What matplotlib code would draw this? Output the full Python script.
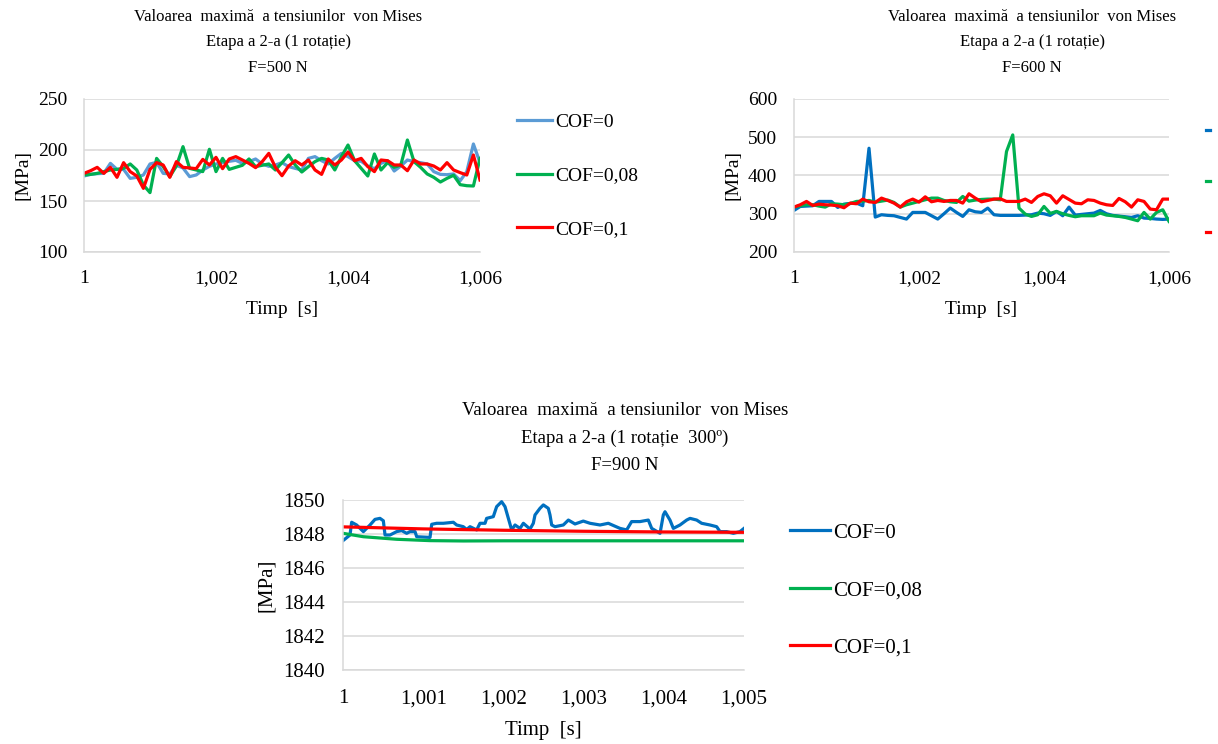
import numpy as np
import matplotlib
matplotlib.use("Agg")
import matplotlib.pyplot as plt
from matplotlib.ticker import FuncFormatter, MultipleLocator

plt.rcParams['font.family'] = ['Liberation Serif', 'DejaVu Serif']

labels = ['COF=0', 'COF=0,08', 'COF=0,1']

# --- F=500 N, one value every 0.0001 s ---
t_500 = np.round(np.linspace(1.0, 1.006, 61), 4)
cof0_500 = [174.5, 176.1, 176.8, 177.1, 186.9, 181.0, 181.0, 172.2, 173.2, 175.5,
            186.3, 187.9, 177.1, 176.5, 185.0, 182.4, 173.9, 175.5, 180.4, 184.0,
            186.3, 187.6, 188.9, 189.9, 186.9, 188.6, 191.2, 186.3, 184.0, 185.3,
            187.6, 183.7, 182.0, 180.4, 191.8, 193.5, 189.5, 186.3, 191.8, 196.7,
            193.5, 189.5, 188.9, 184.3, 181.7, 186.9, 189.5, 179.4, 184.3, 190.2,
            188.6, 187.6, 186.3, 178.8, 176.1, 175.8, 176.5, 169.9, 178.8, 205.9,
            187.6]
cof008_500 = [175.5, 176.1, 177.1, 178.8, 180.4, 181.0, 182.0, 186.3, 180.4, 165.7,
              158.2, 191.8, 183.7, 173.9, 184.3, 203.3, 182.0, 180.4, 178.8, 200.7,
              178.8, 191.8, 181.0, 183.0, 185.0, 191.2, 183.7, 185.0, 186.3, 180.4,
              187.6, 195.1, 185.3, 178.4, 183.7, 188.6, 191.8, 190.2, 180.4, 193.5,
              204.9, 189.5, 182.0, 174.5, 196.1, 180.4, 187.6, 183.0, 185.3, 209.8,
              188.6, 183.0, 176.5, 173.2, 168.6, 172.2, 175.2, 166.0, 165.0, 164.7,
              191.8]
cof01_500 = [177.1, 179.7, 183.0, 177.1, 183.0, 173.2, 187.6, 178.8, 174.5, 162.4,
             181.0, 187.6, 185.3, 173.2, 188.6, 183.0, 182.4, 181.7, 190.8, 185.3,
             192.8, 181.7, 191.2, 193.5, 190.2, 186.9, 182.7, 188.6, 196.7, 183.0,
             174.8, 184.3, 189.5, 185.3, 190.2, 180.4, 176.1, 191.2, 185.3, 190.2,
             198.0, 189.5, 191.8, 183.7, 178.8, 190.2, 189.5, 185.3, 185.3, 179.7,
             190.2, 186.3, 186.3, 184.3, 180.4, 187.6, 180.4, 177.8, 175.5, 195.1,
             170.6]

# --- F=600 N ---
t_600 = np.round(np.linspace(1.0, 1.006, 61), 4)
cof0_600 = [308.7, 319.1, 320.0, 320.9, 332.2, 332.2, 332.2, 316.5, 325.2, 326.9,
            327.8, 320.9, 471.3, 291.3, 297.4, 295.7, 294.8, 290.4, 286.1, 303.5,
            303.5, 303.5, 294.8, 286.1, 300.0, 314.8, 303.5, 293.0, 310.4, 305.2,
            303.5, 314.8, 297.4, 295.7, 295.7, 295.7, 295.7, 296.5, 297.4, 301.7,
            300.0, 295.7, 306.1, 294.8, 317.4, 296.5, 298.3, 300.0, 301.7, 308.7,
            300.0, 295.7, 293.9, 292.2, 290.4, 294.8, 288.7, 287.8, 286.1, 285.2,
            286.1]
cof008_600 = [317.4, 320.9, 323.5, 323.5, 320.0, 317.4, 326.1, 325.2, 323.5, 326.9,
              332.2, 333.0, 334.8, 330.4, 333.0, 335.7, 329.6, 317.4, 323.5, 327.8,
              332.2, 336.5, 340.9, 340.9, 334.8, 331.3, 329.6, 345.2, 333.0, 335.7,
              337.4, 338.3, 338.3, 336.5, 462.6, 506.1, 314.8, 299.1, 293.0, 297.4,
              319.1, 300.9, 306.1, 300.0, 295.7, 292.2, 294.8, 294.8, 294.8, 301.7,
              296.5, 294.8, 293.0, 290.4, 286.1, 281.7, 303.5, 286.1, 303.5, 310.4,
              280.0]
cof01_600 = [317.4, 323.5, 332.2, 321.7, 325.2, 323.5, 322.6, 320.9, 315.7, 327.8,
             326.1, 338.3, 331.3, 329.6, 340.9, 334.8, 327.8, 317.4, 331.3, 338.3,
             330.4, 344.3, 331.3, 334.8, 332.2, 334.8, 334.8, 327.8, 352.2, 340.9,
             331.3, 334.8, 338.3, 339.1, 332.2, 332.2, 332.2, 338.3, 329.6, 345.2,
             352.2, 347.0, 327.8, 347.0, 337.4, 327.8, 326.1, 336.5, 334.8, 327.8,
             323.5, 321.7, 340.0, 331.3, 317.4, 336.5, 332.2, 312.2, 310.4, 338.3,
             338.3]

# --- F=900 N (1 rotatie 300 grade) ---
t_900_cof0 = [1.0, 1.000087, 1.000108, 1.00017, 1.000254, 1.000337, 1.000399, 1.000461,
              1.000503, 1.000524, 1.000586, 1.000669, 1.000732, 1.000794, 1.000835,
              1.000898, 1.000919, 1.001085, 1.001106, 1.001168, 1.001251, 1.001376,
              1.001417, 1.0015, 1.001542, 1.001584, 1.001667, 1.001708, 1.001771,
              1.001791, 1.001874, 1.001916, 1.001978, 1.00202, 1.002103, 1.002145,
              1.002207, 1.002249, 1.002332, 1.002373, 1.002394, 1.002456, 1.002498,
              1.00256, 1.002581, 1.002602, 1.002643, 1.002747, 1.00281, 1.002893,
              1.002996, 1.00308, 1.003205, 1.003308, 1.003454, 1.003537, 1.003599,
              1.003703, 1.003807, 1.003849, 1.003953, 1.003994, 1.004015, 1.004077,
              1.004119, 1.004202, 1.004285, 1.004327, 1.00441, 1.004472, 1.004576,
              1.004659, 1.004701, 1.004784, 1.004867, 1.00495, 1.005]
cof0_900 = [1847.61, 1847.94, 1848.69, 1848.53, 1848.14, 1848.53, 1848.86, 1848.92,
            1848.78, 1847.94, 1847.94, 1848.14, 1848.20, 1848.04, 1848.14,
            1848.14, 1847.84, 1847.80, 1848.57, 1848.63, 1848.63, 1848.69,
            1848.53, 1848.43, 1848.27, 1848.43, 1848.24, 1848.63, 1848.63,
            1848.92, 1849.02, 1849.61, 1849.90, 1849.61, 1848.24, 1848.53,
            1848.33, 1848.63, 1848.29, 1848.63, 1849.12, 1849.51, 1849.71,
            1849.51, 1849.12, 1848.53, 1848.43, 1848.53, 1848.82, 1848.59,
            1848.76, 1848.63, 1848.53, 1848.63, 1848.33, 1848.24, 1848.73,
            1848.73, 1848.82, 1848.33, 1848.04, 1849.12, 1849.31, 1848.82,
            1848.33, 1848.53, 1848.82, 1848.92, 1848.82, 1848.63, 1848.53,
            1848.43, 1848.14, 1848.14, 1848.04, 1848.14, 1848.33]
t_900_cof008 = [1.0, 1.000254, 1.000669, 1.001085, 1.0015, 1.002, 1.003, 1.004, 1.005]
cof008_900 = [1848.04, 1847.84, 1847.69, 1847.61, 1847.59, 1847.60, 1847.60, 1847.60, 1847.60]
t_900_cof01 = [1.0, 1.001, 1.002, 1.003, 1.004, 1.005]
cof01_900 = [1848.42, 1848.30, 1848.22, 1848.16, 1848.12, 1848.10]

W, H = 1218, 744
fig = plt.figure(figsize=(W / 100, H / 100), dpi=100)


def px_axes(x0, y0, x1, y1):
    # axes box given in pixels from the top-left corner
    return fig.add_axes([x0 / W, 1 - y1 / H, (x1 - x0) / W, (y1 - y0) / H])


comma = FuncFormatter(lambda v, _: ('%g' % round(v, 4)).replace('.', ','))


def style(ax, xlim, xstep, ylim, ystep, fs, xpad, ypad):
    ax.set_xlim(*xlim)
    ax.set_ylim(*ylim)
    ax.xaxis.set_major_locator(MultipleLocator(xstep))
    ax.yaxis.set_major_locator(MultipleLocator(ystep))
    ax.xaxis.set_major_formatter(comma)
    ax.yaxis.set_major_formatter(FuncFormatter(lambda v, _: '%d' % v))
    ax.grid(axis='y', color='#d9d9d9', linewidth=1.1)
    ax.set_axisbelow(True)
    for s in ('top', 'right'):
        ax.spines[s].set_visible(False)
    for s in ('left', 'bottom'):
        ax.spines[s].set_color('#d9d9d9')
        ax.spines[s].set_linewidth(1.1)
    ax.tick_params(length=0, labelsize=fs)
    ax.tick_params(axis='x', pad=xpad)
    ax.tick_params(axis='y', pad=ypad)


def title(x, y, lines, fs, ls):
    fig.text(x / W, 1 - y / H, lines, ha='center', va='top', fontsize=fs,
             linespacing=ls, multialignment='center')


def legend(ax, x, y, fs, hl, spacing, textpad=0.15):
    ax.legend(labels, loc='upper left', bbox_to_anchor=(x / W, 1 - y / H),
              bbox_transform=fig.transFigure, frameon=False, fontsize=fs,
              handlelength=hl, handletextpad=textpad, labelspacing=spacing,
              borderpad=0, borderaxespad=0)


lw = 2.3

# chart 1: F=500 N
ax1 = px_axes(84, 99, 480, 252)
ax1.plot(t_500, cof0_500, color='#5b9bd5', lw=lw, solid_joinstyle='round')
ax1.plot(t_500, cof008_500, color='#00b050', lw=lw, solid_joinstyle='round')
ax1.plot(t_500, cof01_500, color='#ff0000', lw=lw, solid_joinstyle='round')
style(ax1, (1.0, 1.006), 0.002, (100, 250), 50, 14, 13, 12)
ax1.set_xlabel('Timp  [s]', fontsize=14, labelpad=10)
ax1.set_ylabel('[MPa]', fontsize=14, labelpad=5)
title(278, 9, 'Valoarea  maximă  a tensiunilor  von Mises\nEtapa a 2-a (1 rotație)\nF=500 N', 12, 1.78)
legend(ax1, 517, 113, 14, 1.8, 1.86)

# chart 2: F=600 N, legend runs past the right edge
ax2 = px_axes(794, 99, 1169, 252)
ax2.plot(t_600, cof0_600, color='#0070c0', lw=lw, solid_joinstyle='round')
ax2.plot(t_600, cof008_600, color='#00b050', lw=lw, solid_joinstyle='round')
ax2.plot(t_600, cof01_600, color='#ff0000', lw=lw, solid_joinstyle='round')
style(ax2, (1.0, 1.006), 0.002, (200, 600), 100, 14, 13, 12)
ax2.set_xlabel('Timp  [s]', fontsize=14, labelpad=10)
ax2.set_ylabel('[MPa]', fontsize=14, labelpad=5)
title(1032, 9, 'Valoarea  maximă  a tensiunilor  von Mises\nEtapa a 2-a (1 rotație)\nF=600 N', 12, 1.78)
legend(ax2, 1206, 123, 14, 0.2, 1.71, textpad=1.0)

# chart 3: F=900 N
ax3 = px_axes(343, 500, 744, 670)
ax3.plot(t_900_cof0, cof0_900, color='#0070c0', lw=lw, solid_joinstyle='round')
ax3.plot(t_900_cof008, cof008_900, color='#00b050', lw=lw, solid_joinstyle='round')
ax3.plot(t_900_cof01, cof01_900, color='#ff0000', lw=lw, solid_joinstyle='round')
style(ax3, (1.0, 1.005), 0.001, (1840, 1850), 2, 15, 14, 13)
ax3.set_xlabel('Timp  [s]', fontsize=15, labelpad=9)
ax3.set_ylabel('[MPa]', fontsize=15, labelpad=5)
title(625, 402, 'Valoarea  maximă  a tensiunilor  von Mises\nEtapa a 2-a (1 rotație  300º)\nF=900 N', 13.5, 1.8)
legend(ax3, 790, 523, 15, 1.92, 1.82)

fig.savefig('out.png', dpi=100)
